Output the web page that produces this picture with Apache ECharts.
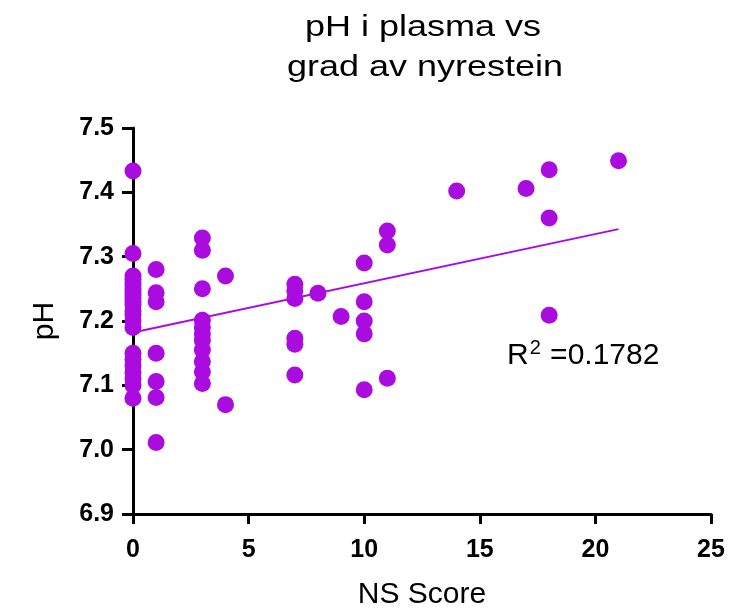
<!DOCTYPE html>
<html>
<head>
<meta charset="utf-8">
<script src="https://cdn.jsdelivr.net/npm/echarts@6/dist/echarts.min.js"></script>
<style>
  html, body { margin: 0; padding: 0; background: #fff; }
  #chart { width: 751px; height: 610px; }
</style>
</head>
<body>
<div id="chart"></div>
<script>
// NS score of each patient and the matching plasma pH
const nsScore = [
  0, 0, 0, 0, 0, 0, 0, 0, 0, 0, 0, 0, 0, 0, 0, 0, 0, 0, 0, 0, 0, 0, 0,
  1, 1, 1, 1, 1, 1, 1,
  3, 3, 3, 3, 3, 3, 3, 3, 3, 3, 3,
  4, 4,
  7, 7, 7, 7, 7, 7,
  8,
  9,
  10, 10, 10, 10, 10,
  11, 11, 11,
  14,
  17,
  18, 18, 18,
  21
];
const phValues = [
  7.433, 7.305, 7.27, 7.265, 7.26, 7.255, 7.25, 7.245, 7.24, 7.235, 7.23, 7.225, 7.215, 7.21, 7.20, 7.19,
  7.15, 7.14, 7.13, 7.12, 7.11, 7.10, 7.08,
  7.280, 7.244, 7.230, 7.150, 7.106, 7.081, 7.011,
  7.329, 7.310, 7.250, 7.201, 7.190, 7.180, 7.170, 7.155, 7.137, 7.121, 7.103,
  7.270, 7.070,
  7.257, 7.247, 7.235, 7.173, 7.164, 7.116,
  7.243,
  7.207,
  7.290, 7.230, 7.200, 7.180, 7.093,
  7.340, 7.318, 7.111,
  7.402,
  7.406,
  7.435, 7.360, 7.209,
  7.449
];
const xTicks = [0, 5, 10, 15, 20, 25];
const yTicks = [6.9, 7.0, 7.1, 7.2, 7.3, 7.4, 7.5];
const titleLines = ['pH i plasma vs', 'grad av nyrestein'];
const xName = 'NS Score';
const yName = 'pH';
const rSquaredText = '0.1782';

// least-squares fit of pH on NS score, drawn over the observed score range
function linearFit(xs, ys) {
  const n = xs.length;
  let sx = 0, sy = 0, sxx = 0, sxy = 0;
  for (let i = 0; i < n; i++) {
    sx += xs[i]; sy += ys[i]; sxx += xs[i] * xs[i]; sxy += xs[i] * ys[i];
  }
  const slope = (n * sxy - sx * sy) / (n * sxx - sx * sx);
  const intercept = (sy - slope * sx) / n;
  return { slope, intercept };
}
const fit = linearFit(nsScore, phValues);
const xMin = Math.min(...nsScore), xMax = Math.max(...nsScore);
const fitLine = [
  [xMin, fit.intercept + fit.slope * xMin],
  [xMax, fit.intercept + fit.slope * xMax]
];

const points = nsScore.map((x, i) => [x, phValues[i]]);
const purple = '#AA0CE0';
const font = 'Liberation Sans, Arial, Helvetica, sans-serif';

const chart = echarts.init(document.getElementById('chart'), null, { renderer: 'canvas' });
chart.setOption({
  animation: false,
  backgroundColor: '#ffffff',
  grid: { left: 133, right: 40, top: 128, bottom: 96, containLabel: false, outerBoundsMode: 'none' },
  xAxis: {
    type: 'value',
    min: xTicks[0],
    max: xTicks[xTicks.length - 1],
    interval: 5,
    name: xName,
    nameLocation: 'middle',
    nameGap: 66,
    nameTextStyle: { fontFamily: font, fontSize: 30, color: '#000' },
    axisLine: { show: true, onZero: false, lineStyle: { color: '#000', width: 3 } },
    axisTick: { show: true, length: 10, lineStyle: { color: '#000', width: 3 } },
    axisLabel: { fontFamily: font, fontSize: 25, fontWeight: 'bold', color: '#000', margin: 24 },
    splitLine: { show: false }
  },
  yAxis: {
    type: 'value',
    min: yTicks[0],
    max: yTicks[yTicks.length - 1],
    interval: 0.1,
    name: yName,
    nameLocation: 'middle',
    nameGap: 73,
    nameRotate: 90,
    nameTextStyle: { fontFamily: font, fontSize: 30, color: '#000' },
    axisLine: { show: true, onZero: false, lineStyle: { color: '#000', width: 3 } },
    axisTick: { show: true, length: 11, lineStyle: { color: '#000', width: 3 } },
    axisLabel: {
      fontFamily: font, fontSize: 25, fontWeight: 'bold', color: '#000', margin: 19,
      formatter: v => v.toFixed(1)
    },
    splitLine: { show: false }
  },
  series: [
    {
      type: 'line',
      data: fitLine,
      showSymbol: false,
      symbol: 'none',
      lineStyle: { color: purple, width: 2 },
      z: 3
    },
    {
      type: 'scatter',
      data: points,
      symbol: 'circle',
      symbolSize: 17,
      itemStyle: { color: purple, opacity: 1 },
      z: 4
    }
  ],
  graphic: [
    // two-line chart title, set slightly wide
    {
      type: 'text',
      x: 423, y: 28,
      scaleX: 1.2,
      style: {
        text: titleLines[0], fontFamily: font, fontSize: 30, fill: '#000',
        align: 'center', verticalAlign: 'middle'
      }
    },
    {
      type: 'text',
      x: 425, y: 68,
      scaleX: 1.2,
      style: {
        text: titleLines[1], fontFamily: font, fontSize: 30, fill: '#000',
        align: 'center', verticalAlign: 'middle'
      }
    },
    // goodness-of-fit annotation
    {
      type: 'text',
      x: 507, y: 356,
      style: {
        rich: {
          r: { fontFamily: font, fontSize: 30, fill: '#000' },
          sup: { fontFamily: font, fontSize: 20, fill: '#000', verticalAlign: 'top', padding: [0, 1, 16, 1] },
          v: { fontFamily: font, fontSize: 30, fill: '#000' }
        },
        text: '{r|R}{sup|2}{v| =' + rSquaredText + '}',
        verticalAlign: 'middle'
      }
    }
  ]
});
</script>
</body>
</html>
